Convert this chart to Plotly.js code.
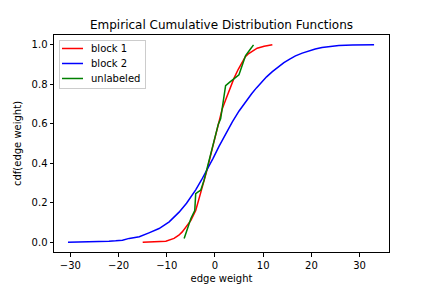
<!DOCTYPE html>
<html>
<head>
<meta charset="utf-8">
<script src="https://cdn.plot.ly/plotly-3.0.1.min.js"></script>
<style>html,body{margin:0;padding:0;background:#fff}#chart{width:432px;height:288px}</style>
</head>
<body>
<div id="chart"></div>
<script>
// ECDF curves
const block1X = [-15, -12.5, -10.2, -8.5, -7.5, -6.8, -5.7, -5.0, -4.0, -3.3, -2.6, -1.6, -0.55, 0.48, 1.5, 2.2, 2.9, 3.93, 4.8, 5.65, 6.3, 7.0, 7.8, 8.75, 10.2, 11.9];
const block1Y = [0, 0.002, 0.005, 0.019, 0.035, 0.052, 0.086, 0.11, 0.16, 0.22, 0.28, 0.37, 0.475, 0.583, 0.675, 0.72, 0.768, 0.83, 0.875, 0.915, 0.94, 0.956, 0.97, 0.983, 0.993, 1.0];

const block2X = [-30.5, -27, -25.4, -22, -20.6, -19.2, -17.8, -15.7, -13.7, -11.6, -9.5, -7.45, -5.9, -4.0, -2.8, -1.6, -0.4, 0.83, 2.2, 3.6, 5.0, 6.5, 7.6, 8.6, 9.6, 10.7, 11.9, 13.1, 14.3, 15.5, 16.7, 18.1, 19.5, 20.8, 22.2, 23.9, 25.7, 28.5, 33];
const block2Y = [0, 0.001, 0.002, 0.005, 0.007, 0.01, 0.019, 0.027, 0.047, 0.069, 0.103, 0.152, 0.197, 0.265, 0.315, 0.368, 0.425, 0.485, 0.55, 0.61, 0.665, 0.717, 0.752, 0.782, 0.81, 0.838, 0.864, 0.888, 0.91, 0.928, 0.944, 0.958, 0.97, 0.979, 0.987, 0.993, 0.997, 0.999, 1.0];

const unlabeledX = [-6.4, -5.7, -5.0, -4.2, -4.0, -3.5, -2.96, -2.28, -1.6, -0.55, 0.14, 0.69, 1.17, 1.5, 1.9, 2.2, 3.0, 3.6, 4.3, 4.97, 5.3, 5.65, 6.35, 7.4, 8.0];
const unlabeledY = [0.019, 0.069, 0.12, 0.16, 0.246, 0.255, 0.263, 0.313, 0.378, 0.48, 0.549, 0.598, 0.625, 0.68, 0.735, 0.793, 0.81, 0.82, 0.835, 0.848, 0.87, 0.9, 0.946, 0.98, 1.0];

const seriesNames = ['block 1', 'block 2', 'unlabeled'];
const seriesColors = ['#ff0000', '#0000ff', '#008000'];

const xTickVals = [-30, -20, -10, 0, 10, 20, 30];
const xTickText = ['\u221230', '\u221220', '\u221210', '0', '10', '20', '30'];
const yTickVals = [0, 0.2, 0.4, 0.6, 0.8, 1.0];
const yTickText = ['0.0', '0.2', '0.4', '0.6', '0.8', '1.0'];

const xs = [block1X, block2X, unlabeledX];
const ys = [block1Y, block2Y, unlabeledY];

const traces = seriesNames.map((n, i) => ({
  x: xs[i], y: ys[i], name: n, type: 'scatter', mode: 'lines',
  line: {color: seriesColors[i], width: 1.5}
}));

const font = {family: 'DejaVu Sans', size: 10, color: '#000'};
const layout = {
  width: 432, height: 288,
  margin: {l: 54, r: 43, t: 35, b: 36, pad: 0},
  paper_bgcolor: '#fff', plot_bgcolor: '#fff',
  font: font,
  title: {text: 'Empirical Cumulative Distribution Functions', font: {family: 'DejaVu Sans', size: 12, color: '#000'}, x: 0.5, xref: 'paper', xanchor: 'center', y: 0.915, yref: 'container', yanchor: 'middle'},
  xaxis: {
    range: [-33.4, 36.1], tickvals: xTickVals, ticktext: xTickText,
    showgrid: false, zeroline: false, showline: true, mirror: true, linecolor: '#000', linewidth: 1,
    ticks: 'outside', ticklen: 3.5, tickwidth: 1, tickcolor: '#000', tickfont: font,
    title: {text: 'edge weight', font: font, standoff: 5}
  },
  yaxis: {
    range: [-0.05, 1.05], tickvals: yTickVals, ticktext: yTickText,
    showgrid: false, zeroline: false, showline: true, mirror: true, linecolor: '#000', linewidth: 1,
    ticks: 'outside', ticklen: 3.5, tickwidth: 1, tickcolor: '#000', tickfont: font,
    title: {text: 'cdf(edge weight)', font: font, standoff: 8}
  },
  showlegend: true,
  legend: {
    x: 0.015, y: 0.977, xanchor: 'left', yanchor: 'top',
    bgcolor: 'rgba(255,255,255,0.8)', bordercolor: '#cccccc', borderwidth: 1,
    font: font, itemwidth: 30, tracegroupgap: 0
  }
};

Plotly.newPlot('chart', traces, layout, {staticPlot: true, displayModeBar: false}).then(gd => {
  // compact the legend to matplotlib-like spacing
  try {
    const leg = gd.querySelector('.legend');
    const items = leg.querySelectorAll('.traces');
    items.forEach((g, i) => {
      g.setAttribute('transform', 'translate(0,' + (8.5 + 15 * i) + ')');
      g.querySelectorAll('.legendlines path').forEach(p => p.setAttribute('d', 'M3,0h21'));
      const t = g.querySelector('text.legendtext');
      if (t) {
        t.setAttribute('x', 32);
        t.querySelectorAll('tspan').forEach(s => s.setAttribute('x', 32));
      }
    });
    const bg = leg.querySelector('rect.bg');
    if (bg) { bg.setAttribute('width', 86); bg.setAttribute('height', 48); }
  } catch (e) {}
});
</script>
</body>
</html>
